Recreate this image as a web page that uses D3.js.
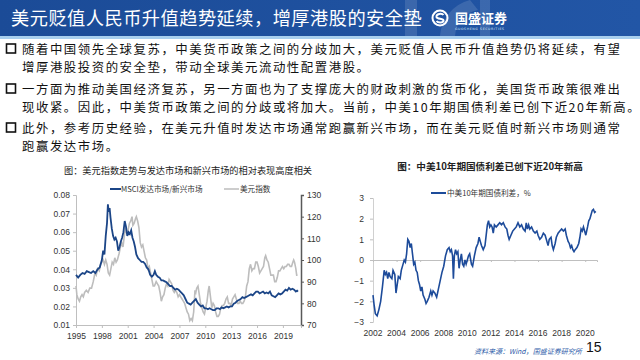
<!DOCTYPE html>
<html><head><meta charset="utf-8">
<script src="https://cdn.jsdelivr.net/npm/d3@7"></script>
<style>body{margin:0;background:#fff}svg{display:block}</style>
</head><body>
<svg id="c" width="640" height="360"></svg>
<script>
// ---------- text ----------
const titleText = "美元贬值人民币升值趋势延续，增厚港股的安全垫";
const bulletLines = [
  ["随着中国领先全球复苏，中美货币政策之间的分歧加大，美元贬值人民币升值趋势仍将延续，有望", "增厚港股投资的安全垫，带动全球美元流动性配置港股。"],
  ["一方面为推动美国经济复苏，另一方面也为了支撑庞大的财政刺激的货币化，美国货币政策很难出", "现收紧。因此，中美货币政策之间的分歧或将加大。当前，中美10年期国债利差已创下近20年新高。"],
  ["此外，参考历史经验，在美元升值时发达市场通常跑赢新兴市场，而在美元贬值时新兴市场则通常", "跑赢发达市场。"]
];
const leftTitle = "图：美元指数走势与发达市场和新兴市场的相对表现高度相关";
const rightTitle = "图：中美10年期国债利差已创下近20年新高";
const leftSeriesNames = ["MSCI发达市场/新兴市场", "美元指数"];
const rightSeriesName = "中美10年期国债利差，%";
const sourceText = "资料来源：Wind，国盛证券研究所";
const pageNo = "15";

// ---------- axis ticks ----------
const leftXTicks = [1995, 1998, 2001, 2004, 2007, 2010, 2013, 2016, 2019];
const leftYTicks = [0.01, 0.02, 0.03, 0.04, 0.05, 0.06, 0.07, 0.08];
const rightYTicksL = [70, 80, 90, 100, 110, 120, 130];
const rightXTicks = [2002, 2004, 2006, 2008, 2010, 2012, 2014, 2016, 2018, 2020];
const rightYTicks = [-3, -2, -1, 0, 1, 2, 3];

// ---------- data ----------
const msci = [
[1995.00,0.037],[1995.25,0.0355],[1995.5,0.037],[1995.75,0.038],[1996.0,0.0375],[1996.25,0.039],[1996.5,0.0385],[1996.75,0.038],
[1997.0,0.039],[1997.25,0.038],[1997.5,0.040],[1997.75,0.041],[1998.0,0.045],[1998.15,0.050],[1998.3,0.048],[1998.45,0.058],
[1998.6,0.065],[1998.7,0.075],[1998.8,0.071],[1998.9,0.073],[1999.0,0.068],[1999.15,0.062],[1999.3,0.058],[1999.45,0.056],
[1999.6,0.057],[1999.75,0.055],[1999.9,0.050],[2000.05,0.052],[2000.2,0.055],[2000.35,0.057],[2000.5,0.060],[2000.65,0.066],
[2000.8,0.063],[2000.95,0.058],[2001.1,0.060],[2001.25,0.059],[2001.4,0.061],[2001.55,0.057],[2001.7,0.055],[2001.85,0.052],
[2002.0,0.048],[2002.2,0.046],[2002.4,0.045],[2002.6,0.044],[2002.8,0.044],[2003.0,0.043],[2003.2,0.041],[2003.4,0.040],
[2003.6,0.037],[2003.8,0.036],[2004.0,0.037],[2004.15,0.039],[2004.3,0.037],[2004.5,0.036],[2004.7,0.0355],[2004.9,0.034],
[2005.1,0.034],[2005.3,0.0335],[2005.5,0.033],[2005.7,0.032],[2005.9,0.031],[2006.1,0.031],[2006.3,0.030],[2006.5,0.029],
[2006.7,0.0295],[2006.9,0.029],[2007.1,0.028],[2007.3,0.027],[2007.5,0.026],[2007.7,0.024],[2007.9,0.022],[2008.1,0.0215],
[2008.3,0.021],[2008.5,0.022],[2008.7,0.023],[2008.9,0.024],[2009.1,0.022],[2009.3,0.021],[2009.5,0.020],[2009.7,0.0205],
[2009.9,0.019],[2010.1,0.019],[2010.3,0.0185],[2010.5,0.019],[2010.7,0.0185],[2010.9,0.018],[2011.1,0.018],[2011.3,0.019],
[2011.5,0.019],[2011.7,0.0185],[2011.9,0.0195],[2012.1,0.019],[2012.3,0.0195],[2012.5,0.020],[2012.7,0.0195],[2012.9,0.020],
[2013.1,0.020],[2013.3,0.0215],[2013.5,0.022],[2013.7,0.023],[2013.9,0.0235],[2014.1,0.024],[2014.3,0.025],[2014.5,0.0245],
[2014.7,0.025],[2014.9,0.0255],[2015.1,0.026],[2015.3,0.0265],[2015.5,0.026],[2015.7,0.027],[2015.9,0.028],[2016.1,0.028],
[2016.3,0.027],[2016.5,0.0275],[2016.7,0.028],[2016.9,0.027],[2017.1,0.0275],[2017.3,0.027],[2017.5,0.028],[2017.7,0.026],
[2017.9,0.0255],[2018.1,0.025],[2018.3,0.026],[2018.5,0.027],[2018.7,0.0265],[2018.9,0.027],[2019.1,0.028],[2019.3,0.029],
[2019.5,0.0285],[2019.7,0.030],[2019.9,0.029],[2020.1,0.0295],[2020.3,0.029],[2020.5,0.028],[2020.65,0.0285],[2020.75,0.028]
];
const dxy = [
[1995.0,88],[1995.1,84],[1995.25,82],[1995.4,81],[1995.55,83],[1995.7,84],[1995.85,83],[1996.0,85],[1996.2,86],[1996.4,85],
[1996.6,87],[1996.8,87],[1997.0,90],[1997.2,94],[1997.35,93],[1997.5,96],[1997.7,95],[1997.85,98],[1998.0,99],[1998.15,100],
[1998.3,98],[1998.45,100],[1998.6,98],[1998.75,94],[1998.9,93],[1999.05,96],[1999.2,99],[1999.35,98],[1999.5,101],[1999.65,99],
[1999.8,100],[2000.0,103],[2000.15,106],[2000.3,108],[2000.45,106],[2000.6,111],[2000.75,115],[2000.9,112],[2001.05,114],
[2001.2,117],[2001.35,118],[2001.5,120],[2001.6,116],[2001.75,117],[2001.9,119],[2002.0,120],[2002.15,118],[2002.3,115],
[2002.45,108],[2002.6,106],[2002.75,107],[2002.9,104],[2003.05,101],[2003.2,100],[2003.35,96],[2003.5,97],[2003.65,94],
[2003.8,91],[2003.95,88],[2004.1,88],[2004.3,90],[2004.45,89],[2004.6,88],[2004.75,85],[2004.9,81],[2005.05,83],[2005.2,84],
[2005.35,87],[2005.5,89],[2005.65,88],[2005.8,91],[2005.95,90],[2006.1,89],[2006.25,86],[2006.4,85],[2006.55,86],[2006.7,85],
[2006.85,83],[2007.0,84],[2007.15,83],[2007.3,82],[2007.45,81],[2007.6,80],[2007.75,78],[2007.9,76],[2008.05,75],[2008.2,72],
[2008.35,73],[2008.5,72],[2008.65,76],[2008.8,86],[2008.9,85],[2009.0,87],[2009.15,88],[2009.3,84],[2009.45,80],[2009.6,78],
[2009.75,76],[2009.9,75],[2010.05,78],[2010.2,81],[2010.35,86],[2010.45,88],[2010.6,83],[2010.75,78],[2010.9,80],[2011.05,79],
[2011.2,76],[2011.35,74],[2011.5,74],[2011.65,75],[2011.8,78],[2011.95,79],[2012.1,79],[2012.25,80],[2012.4,82],[2012.55,83],
[2012.7,80],[2012.85,80],[2013.0,79],[2013.15,82],[2013.3,83],[2013.45,84],[2013.6,82],[2013.75,80],[2013.9,80],[2014.05,81],
[2014.2,80],[2014.35,80],[2014.5,81],[2014.65,83],[2014.8,88],[2014.95,90],[2015.1,96],[2015.25,98],[2015.4,95],[2015.55,96],
[2015.7,96],[2015.85,99],[2016.0,99],[2016.15,97],[2016.3,94],[2016.45,95],[2016.6,96],[2016.75,97],[2016.9,101],[2017.0,102],
[2017.15,100],[2017.3,99],[2017.45,96],[2017.6,93],[2017.75,93],[2017.9,93],[2018.05,90],[2018.2,90],[2018.35,92],[2018.5,95],
[2018.65,95],[2018.8,96],[2018.95,97],[2019.1,96],[2019.25,97],[2019.4,97],[2019.55,98],[2019.7,98],[2019.85,97],[2020.0,97],
[2020.15,99],[2020.25,100],[2020.35,99],[2020.5,96],[2020.6,93],[2020.7,93]
];
const spread = [
[2002.0,-1.7],[2002.1,-2.2],[2002.2,-2.6],[2002.35,-2.7],[2002.5,-2.4],[2002.65,-2.0],[2002.8,-1.3],[2002.95,-0.5],[2003.05,-0.7],
[2003.15,-0.6],[2003.25,-0.9],[2003.35,-0.6],[2003.45,-0.8],[2003.6,-0.9],[2003.7,-0.5],[2003.85,-0.7],[2003.95,-1.6],[2004.05,-1.2],
[2004.15,-0.8],[2004.3,-0.9],[2004.4,-0.5],[2004.55,-0.2],[2004.65,0.0],[2004.75,-0.1],[2004.85,0.3],[2004.95,1.0],[2005.05,0.9],
[2005.15,0.6],[2005.25,0.8],[2005.35,0.3],[2005.45,-0.2],[2005.55,-0.1],[2005.65,-0.5],[2005.75,-0.6],[2005.85,-1.0],[2005.95,-1.2],
[2006.05,-1.5],[2006.15,-1.3],[2006.25,-1.7],[2006.4,-1.9],[2006.5,-2.1],[2006.6,-2.0],[2006.75,-1.8],[2006.9,-1.5],[2007.0,-1.7],
[2007.1,-1.5],[2007.25,-1.6],[2007.4,-1.8],[2007.55,-1.4],[2007.7,-1.0],[2007.85,-0.6],[2008.0,-0.3],[2008.15,0.2],[2008.3,0.5],
[2008.45,0.6],[2008.55,0.4],[2008.65,0.5],[2008.75,0.2],[2008.82,-0.9],[2008.9,0.2],[2009.0,0.5],[2009.1,0.3],[2009.2,0.4],
[2009.3,-0.4],[2009.4,0.0],[2009.5,0.3],[2009.6,-0.2],[2009.7,-0.3],[2009.8,0.0],[2009.9,-0.2],[2010.0,0.0],[2010.1,0.2],
[2010.2,0.3],[2010.35,-0.2],[2010.45,-0.3],[2010.6,0.2],[2010.75,0.6],[2010.9,0.8],[2011.0,1.1],[2011.1,0.9],[2011.2,0.7],
[2011.35,0.5],[2011.5,0.7],[2011.6,1.2],[2011.7,1.7],[2011.8,1.9],[2011.9,1.6],[2012.0,1.7],[2012.1,1.6],[2012.2,1.3],
[2012.3,1.7],[2012.45,1.6],[2012.6,1.7],[2012.75,1.8],[2012.9,1.7],[2013.05,1.8],[2013.2,1.6],[2013.35,1.5],[2013.45,1.2],
[2013.55,1.0],[2013.7,1.2],[2013.85,1.4],[2014.0,1.5],[2014.15,1.6],[2014.3,1.8],[2014.45,1.6],[2014.6,1.7],[2014.75,1.5],
[2014.9,1.4],[2015.0,1.8],[2015.1,1.5],[2015.2,1.7],[2015.3,1.5],[2015.45,1.6],[2015.6,1.4],[2015.75,1.3],[2015.9,1.4],
[2016.0,1.2],[2016.15,1.0],[2016.3,1.1],[2016.45,1.3],[2016.6,1.2],[2016.75,0.9],[2016.85,0.7],[2016.95,1.0],[2017.1,1.1],
[2017.2,0.7],[2017.3,0.5],[2017.45,0.8],[2017.55,1.1],[2017.7,1.3],[2017.85,1.4],[2018.0,1.5],[2018.15,1.4],[2018.3,1.5],
[2018.4,1.2],[2018.55,0.9],[2018.65,0.8],[2018.75,0.6],[2018.85,0.7],[2018.95,0.5],[2019.05,0.4],[2019.15,0.5],[2019.3,0.6],
[2019.45,0.8],[2019.55,1.1],[2019.65,1.5],[2019.75,1.4],[2019.85,1.6],[2019.95,1.4],[2020.05,1.2],[2020.2,1.6],[2020.3,1.9],
[2020.4,2.0],[2020.5,2.2],[2020.6,2.4],[2020.7,2.45],[2020.8,2.3],[2020.9,2.35]
];

// ---------- drawing ----------
const svg = d3.select("#c");
const CJK = "'Noto Sans CJK SC','Noto Sans',sans-serif";
const LAT = "'Liberation Sans',Arial,sans-serif";

// header
const defs = svg.append("defs");
const g1 = defs.append("linearGradient").attr("id","hdr").attr("x1","0").attr("x2","1");
g1.append("stop").attr("offset","0").attr("stop-color","#1b4b97");
g1.append("stop").attr("offset","1").attr("stop-color","#2256a6");
svg.append("rect").attr("x",0).attr("y",0).attr("width",640).attr("height",36).attr("fill","url(#hdr)");
svg.append("rect").attr("x",0).attr("y",36).attr("width",640).attr("height",3).attr("fill","#a8cfee");
const wm = svg.append("g").attr("fill","#ffffff").attr("opacity",0.12);
wm.append("rect").attr("x",405).attr("y",0).attr("width",12).attr("height",36);
wm.append("path").attr("d","M470,0 A40,40 0 0 0 440,36 L455,36 A28,28 0 0 1 478,10 Z");
wm.append("rect").attr("x",480).attr("y",0).attr("width",10).attr("height",36);

svg.append("text").attr("x",11).attr("y",25).attr("fill","#fff")
  .attr("font-family",CJK).attr("font-size",18.2).attr("letter-spacing",0.5).text(titleText);

// logo
const lg = svg.append("g").attr("transform","translate(440,18)");
lg.append("circle").attr("r",7.5).attr("fill","none").attr("stroke","#fff").attr("stroke-width",2);
lg.append("path").attr("d","M3.5,-3 C2,-5 -4,-4.5 -3.5,-1 C-3,1.5 3.5,0 3.5,2.5 C3.5,5 -2,5 -3.5,3")
  .attr("fill","none").attr("stroke","#fff").attr("stroke-width",2);
svg.append("text").attr("x",455).attr("y",23).attr("fill","#fff").attr("font-family",CJK)
  .attr("font-weight","bold").attr("font-size",13).text("国盛证券");
svg.append("text").attr("x",455).attr("y",30).attr("fill","#dfe9f7").attr("font-family","'DejaVu Sans',sans-serif")
  .attr("font-size",3.2).attr("letter-spacing",0.6).text("GUOSHENG SECURITIES");

// bullets
const bulletY = [49, 89, 128];
bulletLines.forEach((lines, i) => {
  const y0 = bulletY[i];
  svg.append("rect").attr("x",6.5).attr("y",y0-5).attr("width",9).attr("height",9)
    .attr("fill","none").attr("stroke","#111").attr("stroke-width",1.6);
  lines.forEach((t, j) => {
    svg.append("text").attr("x",22).attr("y",y0 + 5 + j*18).attr("fill","#111")
      .attr("font-family",CJK).attr("font-size",12.4).attr("letter-spacing",1.55).text(t);
  });
});

// ---------- left chart ----------
const lx = d3.scaleLinear().domain([1995, 2021.1]).range([76, 301]);
const ly = d3.scaleLinear().domain([0.01, 0.08]).range([325, 195]);
const ry = d3.scaleLinear().domain([70, 130]).range([325, 195]);

svg.append("text").attr("x",188).attr("y",174).attr("text-anchor","middle").attr("fill","#222")
  .attr("font-family",CJK).attr("font-size",9.2).text(leftTitle);

const axL = svg.append("g").attr("transform","translate(76,0)")
  .call(d3.axisLeft(ly).tickValues(leftYTicks).tickFormat(d3.format(".2f")).tickSize(3));
const axR = svg.append("g").attr("transform","translate(301,0)")
  .call(d3.axisRight(ry).tickValues(rightYTicksL).tickSize(3).tickFormat(d3.format("d")));
const axB = svg.append("g").attr("transform","translate(0,325)")
  .call(d3.axisBottom(lx).tickValues(leftXTicks).tickFormat(d3.format("d")).tickSize(3));
[axL, axB].forEach(a => {
  a.select(".domain").attr("stroke","#bfbfbf");
  a.selectAll(".tick line").attr("stroke","#bfbfbf");
});
axR.select(".domain").attr("stroke","#595959").attr("stroke-width",1.5);
axR.selectAll(".tick line").attr("stroke","#595959");
[axL, axR, axB].forEach(a => a.selectAll("text").attr("font-family",LAT)
  .attr("font-size",8.5).attr("fill","#333"));
axB.selectAll("text").attr("dy","0.9em");

const lineDxy = d3.line().x(d => lx(d[0])).y(d => ry(d[1]));
const lineMsci = d3.line().x(d => lx(d[0])).y(d => ly(d[1]));
svg.append("path").datum(dxy).attr("d",lineDxy).attr("fill","none").attr("stroke","#bdbdbd").attr("stroke-width",1.6);
svg.append("path").datum(msci).attr("d",lineMsci).attr("fill","none").attr("stroke","#1b4587").attr("stroke-width",1.8);

// left legend
svg.append("line").attr("x1",110).attr("x2",121).attr("y1",189).attr("y2",189).attr("stroke","#1b4587").attr("stroke-width",2);
svg.append("text").attr("x",121).attr("y",191.5).attr("font-family",CJK).attr("font-size",7.6).attr("fill","#333").text(leftSeriesNames[0]);
svg.append("line").attr("x1",224).attr("x2",239).attr("y1",189).attr("y2",189).attr("stroke","#bdbdbd").attr("stroke-width",1.5);
svg.append("text").attr("x",240).attr("y",191.5).attr("font-family",CJK).attr("font-size",7.6).attr("fill","#333").text(leftSeriesNames[1]);

// ---------- right chart ----------
const rx = d3.scaleLinear().domain([2002, 2021]).range([373, 597]);
const sy = d3.scaleLinear().domain([-3, 3]).range([322, 198]);

svg.append("text").attr("x",490).attr("y",170).attr("text-anchor","middle").attr("fill","#222")
  .attr("font-family",CJK).attr("font-size",9.6).attr("font-weight","bold").text(rightTitle);

const axS = svg.append("g").attr("transform","translate(373,0)")
  .call(d3.axisLeft(sy).tickValues(rightYTicks).tickFormat(d3.format("d")).tickSize(3));
axS.select(".domain").attr("stroke","#d0d0d0");
axS.selectAll(".tick line").attr("stroke","#bfbfbf");
axS.selectAll("text").attr("font-family",LAT).attr("font-size",8.5).attr("fill","#333").attr("dx","-3");

const axZ = svg.append("g").attr("transform",`translate(0,${sy(0)})`)
  .call(d3.axisBottom(rx).tickValues(rightXTicks).tickSize(2).tickFormat(""));
axZ.select(".domain").attr("stroke","#bfbfbf");
axZ.selectAll(".tick line").attr("stroke","#bfbfbf");

svg.append("g").selectAll("text").data(rightXTicks).join("text")
  .attr("x", d => rx(d)).attr("y", 336).attr("text-anchor","middle")
  .attr("font-family",LAT).attr("font-size",8.5).attr("fill","#333")
  .text(d => d);

const lineS = d3.line().x(d => rx(d[0])).y(d => sy(d[1]));
svg.append("path").datum(spread).attr("d",lineS).attr("fill","none").attr("stroke","#1d4b9a").attr("stroke-width",1.6);

svg.append("line").attr("x1",431).attr("x2",446).attr("y1",193).attr("y2",193).attr("stroke","#1d4b9a").attr("stroke-width",2);
svg.append("text").attr("x",447).attr("y",195.5).attr("font-family",CJK).attr("font-size",7.6).attr("fill","#333").text(rightSeriesName);

// footer
svg.append("text").attr("x",474).attr("y",354).attr("font-family",CJK).attr("font-style","italic")
  .attr("font-size",7).attr("fill","#2b5aa8").text(sourceText);
svg.append("text").attr("x",586).attr("y",352).attr("font-family",LAT)
  .attr("font-size",14).attr("fill","#111").text(pageNo);
</script>
</body></html>
